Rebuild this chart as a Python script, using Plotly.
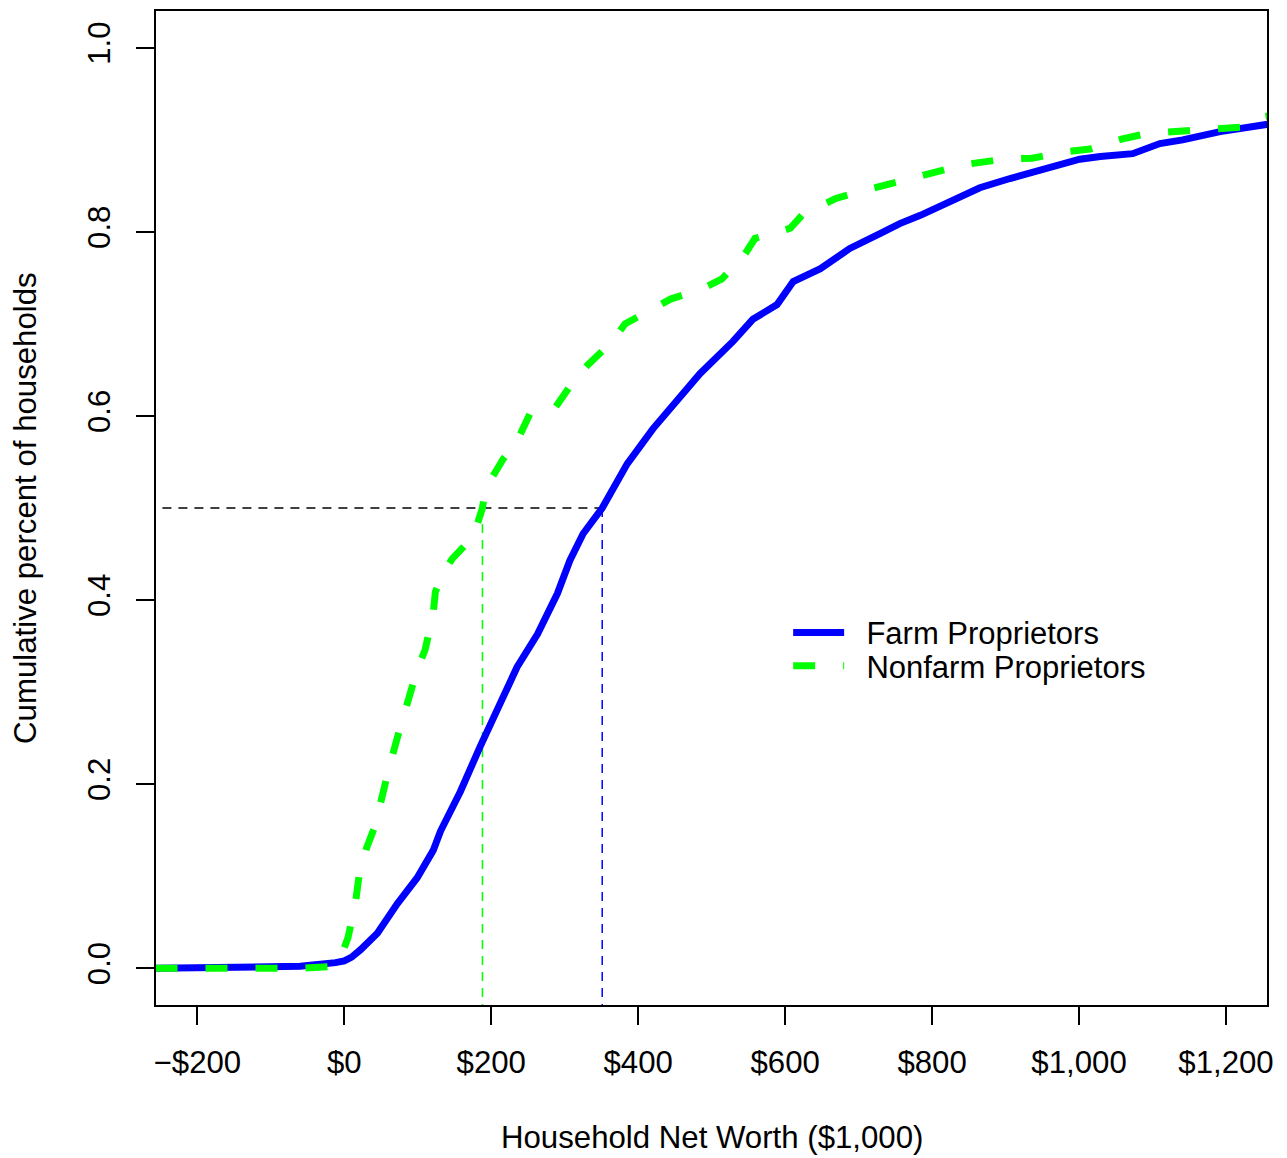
import plotly.graph_objects as go

# Household net worth ($1,000) and cumulative share
farm_x = [-257, -60, -12, 0, 10, 22, 45, 72, 99, 121, 131, 158, 185, 216, 235, 263, 290,
          307, 325, 351, 385, 420, 461, 484, 529, 556, 589, 611, 648, 688, 729, 756, 784,
          824, 865, 906, 961, 1001, 1029, 1073, 1110, 1141, 1192, 1257]
farm_y = [0.0, 0.002, 0.006, 0.008, 0.012, 0.020, 0.038, 0.070, 0.098, 0.128, 0.149, 0.192,
          0.241, 0.294, 0.327, 0.363, 0.407, 0.443, 0.472, 0.500, 0.548, 0.586, 0.624, 0.646,
          0.681, 0.705, 0.721, 0.746, 0.760, 0.782, 0.798, 0.809, 0.818, 0.833, 0.848, 0.858,
          0.871, 0.879, 0.882, 0.885, 0.896, 0.900, 0.909, 0.917]

nonfarm_x = [-257, -60, -15, -5, 5, 15, 20, 30, 42, 52, 60, 72, 83, 99, 110, 121, 124, 135,
             147, 165, 180, 188, 192, 205, 216, 233, 253, 287, 314, 332, 365, 382, 419, 444,
             487, 514, 543, 559, 590, 607, 624, 668, 693, 743, 774, 820, 852, 897, 936, 981,
             1015, 1059, 1093, 1140, 1176, 1223, 1250, 1257]
nonfarm_y = [0.0, 0.0, 0.002, 0.012, 0.033, 0.070, 0.100, 0.130, 0.155, 0.190, 0.215, 0.250,
             0.280, 0.324, 0.346, 0.386, 0.409, 0.430, 0.445, 0.460, 0.480, 0.500, 0.521,
             0.540, 0.553, 0.569, 0.603, 0.609, 0.640, 0.656, 0.681, 0.700, 0.716, 0.727,
             0.738, 0.749, 0.773, 0.793, 0.800, 0.804, 0.819, 0.836, 0.842, 0.853, 0.858,
             0.868, 0.874, 0.879, 0.880, 0.887, 0.890, 0.901, 0.907, 0.909, 0.911, 0.914,
             0.925, 0.926]

farm_median = 351
nonfarm_median = 188
median_level = 0.5

x_tickvals = [-200, 0, 200, 400, 600, 800, 1000, 1200]
x_ticktext = ["\u2212$200", "$0", "$200", "$400", "$600", "$800", "$1,000", "$1,200"]
y_tickvals = [0.0, 0.2, 0.4, 0.6, 0.8, 1.0]
y_ticktext = ["0.0", "0.2", "0.4", "0.6", "0.8", "1.0"]

BLUE = "#0000FF"
GREEN = "#00FF00"
FONT = "Liberation Sans, Arial, sans-serif"
FS = 31.2
NB = "\u00a0\u00a0"

fig = go.Figure()

# reference lines at the median
fig.add_trace(go.Scatter(x=[-400, farm_median], y=[median_level, median_level], mode="lines",
                         line=dict(color="black", width=1.5, dash="9px,7px"),
                         showlegend=False, hoverinfo="skip"))
fig.add_trace(go.Scatter(x=[nonfarm_median, nonfarm_median], y=[median_level, -0.2], mode="lines",
                         line=dict(color=GREEN, width=1.5, dash="9px,7px"),
                         showlegend=False, hoverinfo="skip"))
fig.add_trace(go.Scatter(x=[farm_median, farm_median], y=[median_level, -0.2], mode="lines",
                         line=dict(color=BLUE, width=1.5, dash="9px,7px"),
                         showlegend=False, hoverinfo="skip"))

fig.add_trace(go.Scatter(x=farm_x, y=farm_y, mode="lines", name=NB + "Farm Proprietors",
                         line=dict(color=BLUE, width=7), legend="legend"))
fig.add_trace(go.Scatter(x=nonfarm_x, y=nonfarm_y, mode="lines", name=NB + "Nonfarm Proprietors",
                         line=dict(color=GREEN, width=7, dash="22px,28px"), legend="legend2"))

axis_common = dict(showline=True, linecolor="black", linewidth=1.8, mirror=True,
                   showgrid=False, zeroline=False, ticks="outside", ticklen=18,
                   tickwidth=1.5, tickcolor="black",
                   tickfont=dict(family=FONT, size=FS, color="black"))

fig.update_xaxes(range=[-256.3, 1255.8], tickvals=x_tickvals, ticktext=x_ticktext,
                 ticklabelstandoff=11, **axis_common)
fig.update_yaxes(range=[-0.04, 1.04], tickvals=y_tickvals, ticktext=y_ticktext,
                 tickangle=-90, ticklabelstandoff=14, **axis_common)

fig.add_annotation(text="Household Net Worth ($1,000)", xref="paper", yref="paper",
                   x=0.5, y=-0.1335, xanchor="center", yanchor="middle", showarrow=False,
                   font=dict(family=FONT, size=FS, color="black"))
fig.add_annotation(text="Cumulative percent of households", xref="paper", yref="paper",
                   x=-0.118, y=0.5, xanchor="center", yanchor="middle", showarrow=False,
                   textangle=-90, font=dict(family=FONT, size=FS, color="black"))

legend_common = dict(xanchor="left", yanchor="middle", bgcolor="rgba(0,0,0,0)",
                     borderwidth=0, font=dict(family=FONT, size=31, color="black"),
                     itemwidth=51)

fig.update_layout(
    width=1287, height=1158,
    margin=dict(l=148, r=28, t=1, b=161),
    paper_bgcolor="white", plot_bgcolor="white",
    legend=dict(x=0.569, y=0.3745, **legend_common),
    legend2=dict(x=0.569, y=0.341, **legend_common),
)

fig.write_html("out.html")
